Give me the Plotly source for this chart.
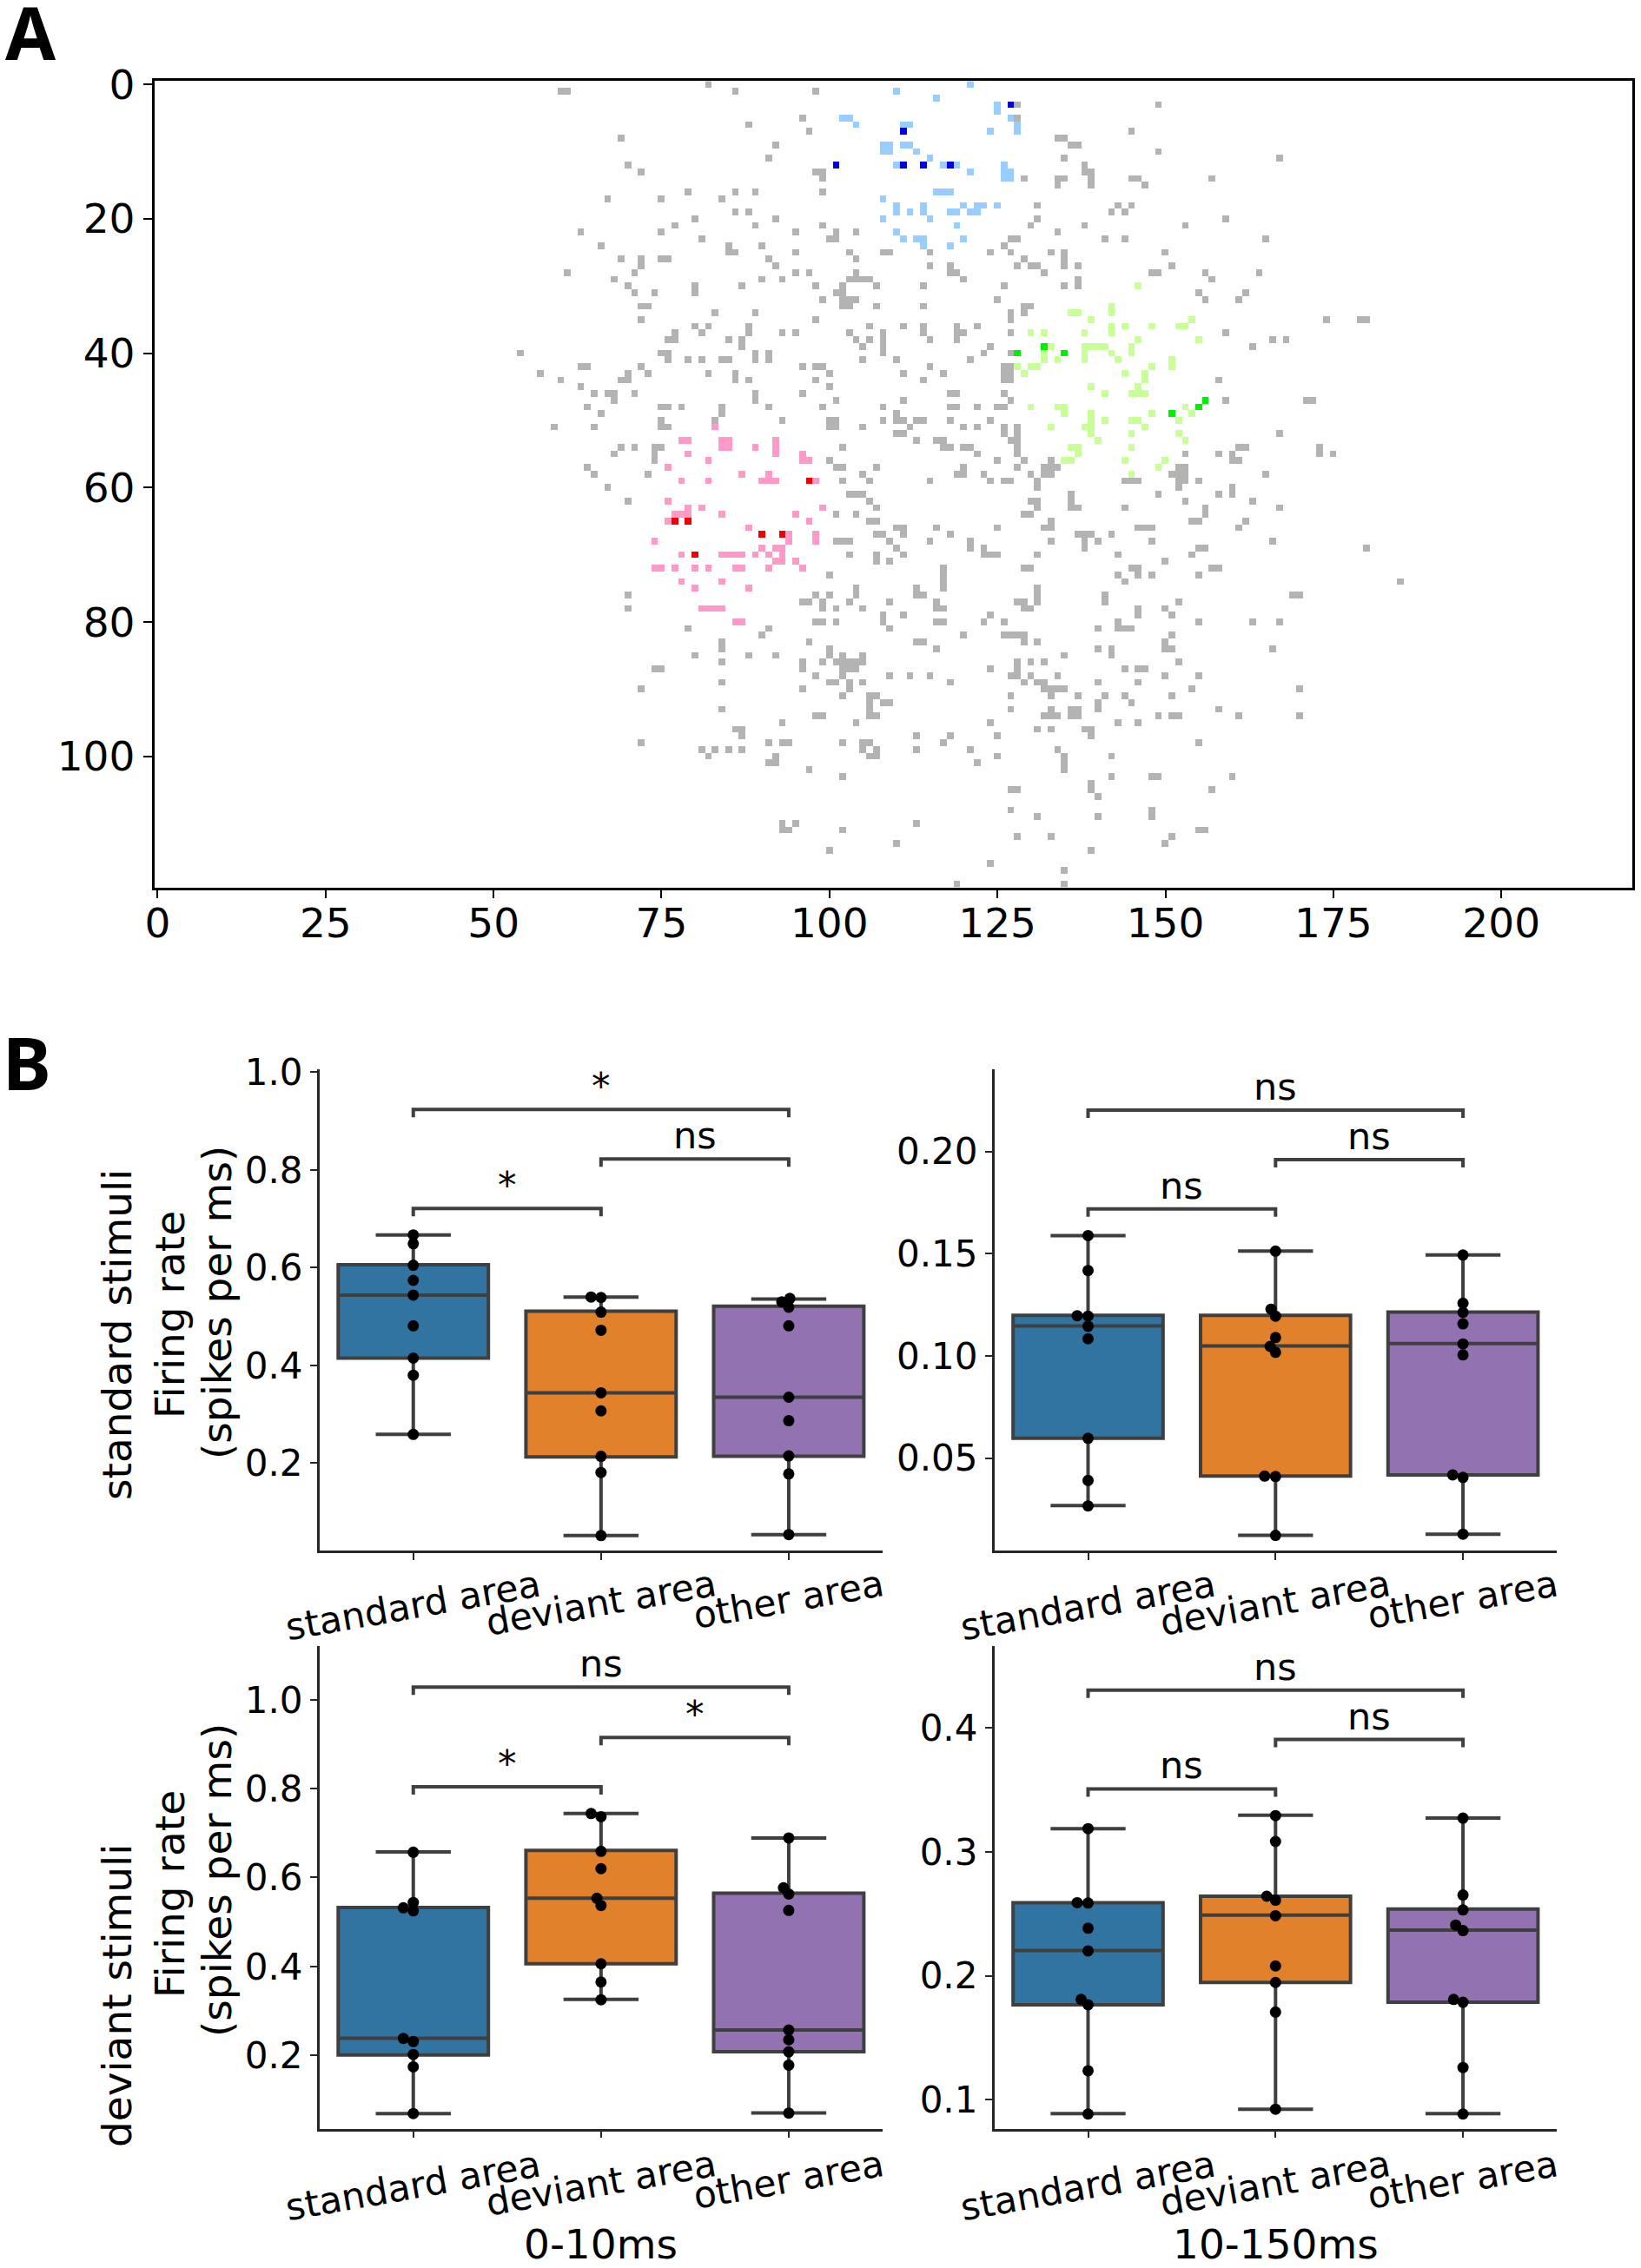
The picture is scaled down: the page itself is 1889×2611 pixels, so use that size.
import numpy as np
import plotly.graph_objects as go

W, H = 1889, 2611

# ---- panel A, cells by row: {row: [columns]} ----
gray_cells = {
    0: [82], 1: [60, 61, 86, 98], 3: [128, 149], 5: [96, 128], 6: [88], 7: [97, 145], 8: [69, 134, 135],
    9: [92, 136, 137], 10: [149], 11: [91, 135, 167], 12: [70, 138], 13: [72, 98, 99, 138, 139],
    14: [99, 129, 134, 135, 139, 145, 146, 157], 15: [134, 139, 147], 16: [79, 86, 89, 99], 17: [67, 75, 84],
    18: [131, 143, 145], 19: [86, 88, 142, 144], 20: [80, 92, 131, 159], 21: [77, 89, 99, 130, 138, 153],
    22: [63, 75, 95, 101, 104, 134], 23: [81, 100, 101, 127, 128, 141, 144, 165], 24: [66, 85, 90, 126],
    25: [85, 86, 95, 103, 108, 109, 115, 124, 127, 133, 135, 150], 26: [69, 72, 75, 76, 91, 104, 129, 135],
    27: [72, 92, 115, 118, 128, 130, 131, 135, 137, 151], 28: [61, 71, 95, 97, 104, 118, 119, 132, 148, 149, 156, 164],
    29: [68, 90, 93, 103, 104, 105, 106, 120, 137, 157], 30: [70, 80, 87, 98, 102, 107, 114, 126, 135, 137],
    31: [71, 74, 80, 101, 102, 155, 162], 32: [99, 102, 103, 104, 125, 156, 161],
    33: [72, 73, 102, 103, 107, 114, 129, 130], 34: [83, 89, 127, 129], 35: [72, 98, 127, 174, 179, 180],
    36: [80, 82, 88, 106, 111, 114, 119, 122], 37: [77, 81, 88, 93, 95, 103, 108, 114, 119, 120, 127, 159],
    38: [76, 77, 85, 87, 104, 106, 108, 115, 119, 166, 168], 39: [87, 105, 108, 124, 163],
    40: [54, 75, 76, 89, 91, 108, 123, 127], 41: [76, 79, 81, 84, 85, 89, 91, 105, 110, 121],
    42: [63, 64, 72, 96, 98, 99, 115, 126, 127], 43: [57, 70, 73, 82, 86, 100, 111, 117, 126, 127],
    44: [60, 69, 70, 86, 88, 98, 114, 126, 127, 158], 45: [63, 100], 46: [65, 67, 68, 71, 89, 96, 118, 119, 126],
    47: [68, 89, 101, 111, 127, 159, 171, 172], 48: [64, 75, 76, 78, 84, 91, 99, 108, 118, 119, 122, 125, 126],
    49: [66, 84, 110], 50: [75, 83, 93, 100, 101, 108, 110, 111, 113, 114, 118, 124],
    51: [59, 65, 75, 76, 100, 101, 105, 112, 120, 122, 126, 128], 52: [110, 111, 126, 128, 167],
    53: [113, 116, 117, 127, 128], 54: [69, 71, 74, 75, 102, 117, 118, 120, 121, 128, 161, 162, 173],
    55: [68, 74, 122, 128, 153, 158, 160, 173, 175], 56: [74, 100, 125, 129, 133, 160, 161],
    57: [64, 101, 102, 107, 120, 128, 132, 133, 134, 152, 153],
    58: [65, 73, 105, 119, 120, 123, 130, 132, 133, 151, 152, 153, 165],
    59: [102, 106, 115, 124, 126, 127, 131, 144, 145, 146, 152, 153, 155], 60: [67, 131, 152, 160],
    61: [103, 104, 105, 136, 149, 158, 160], 62: [70, 106, 130, 131, 136, 153, 163],
    63: [107, 131, 136, 137, 144, 156, 167], 64: [101, 104, 129, 130, 156], 65: [106, 107, 133, 154, 155, 162],
    66: [110, 111, 116, 125, 132, 133, 146, 147, 148, 161], 67: [107, 108, 111, 118, 137, 138, 139, 142],
    68: [101, 102, 103, 109, 115, 121, 133, 138, 140, 148, 166], 69: [110, 121, 123, 138, 155, 156, 180],
    70: [103, 107, 111, 123, 124, 125, 131, 143, 154], 71: [107, 109, 150], 72: [117, 129, 130, 145, 146, 157, 158],
    73: [100, 117, 143, 146, 148, 155], 74: [117, 144, 185], 75: [104, 113, 117, 131],
    76: [70, 98, 100, 104, 113, 114, 131, 141, 169, 170], 77: [96, 97, 99, 103, 109, 116, 128, 129, 131, 141, 152],
    78: [70, 99, 101, 105, 116, 117, 129, 130, 146, 150], 79: [108, 111, 124, 146, 151],
    80: [98, 99, 101, 108, 116, 117, 123, 126, 143, 155, 163, 167], 81: [79, 91, 109, 140, 143, 144, 145],
    82: [90, 120, 126, 127, 128, 129, 151], 83: [84, 97, 113, 114, 129, 131, 150],
    84: [84, 100, 116, 140, 142, 150, 151, 166], 85: [80, 88, 92, 100, 102, 105, 135, 142],
    86: [84, 96, 99, 101, 102, 103, 104, 105, 128, 130, 132, 152],
    87: [74, 75, 96, 102, 103, 104, 124, 128, 144, 146, 147], 88: [98, 102, 109, 112, 115, 127, 128, 130, 134, 150, 155],
    89: [84, 100, 101, 103, 105, 118, 129, 131, 132, 140, 146], 90: [72, 96, 103, 132, 133, 134, 135, 154, 170],
    91: [102, 106, 107, 127, 133, 137, 141, 144, 151], 92: [106, 108, 109, 140, 145],
    93: [84, 106, 127, 133, 136, 137, 140, 158], 94: [98, 99, 106, 107, 132, 133, 134, 136, 137, 149, 151, 152, 161, 170],
    95: [93, 104, 124, 143, 146], 96: [86, 87, 131, 133, 138, 139], 97: [87, 113, 118, 125, 139],
    98: [72, 91, 93, 94, 102, 105, 106, 117, 155], 99: [81, 83, 85, 87, 105, 107, 113, 121, 134],
    100: [82, 92, 106, 107, 125, 135, 142], 101: [91, 92, 122, 135], 102: [97, 135], 103: [102, 142, 148, 149, 160],
    104: [139], 105: [127, 128, 139, 157], 106: [140], 108: [127, 148], 109: [131, 140, 148], 110: [93, 95, 113],
    111: [93, 94, 102, 155, 156], 112: [128, 133, 151], 113: [110, 150], 114: [100, 139], 116: [124], 117: [135],
    119: [119, 135],
}
lightblue_cells = {
    0: [121], 1: [110], 2: [116], 3: [125], 4: [125], 5: [102, 103, 127], 6: [104, 111, 112, 128], 7: [124, 128],
    9: [108, 109, 111, 112], 10: [108, 109, 113], 11: [115], 12: [110, 117, 119, 126], 13: [121, 126, 127],
    14: [126, 127], 16: [116, 117, 118], 17: [108], 18: [110, 114, 120, 122, 123, 125],
    19: [110, 112, 114, 118, 119, 121, 122], 20: [108, 115], 21: [119], 22: [110], 23: [111, 113, 114, 120],
    24: [114, 118],
}
blue_cells = {3: [127], 7: [111], 12: [101, 111, 114, 118]}
lightgreen_cells = {
    30: [146], 33: [142], 34: [136, 137, 142], 35: [139, 154], 36: [142, 144, 148, 152, 153],
    37: [130, 132, 138, 142], 38: [146, 155], 39: [133, 138, 139, 140, 141, 145], 40: [132, 138, 142, 145],
    41: [132, 134, 138, 143, 151], 42: [128, 130, 131, 148, 151], 43: [129, 144, 147], 44: [147], 45: [139, 146],
    46: [141, 145, 146, 147], 48: [130, 134, 135, 153], 49: [135, 139, 148, 154], 50: [139, 141, 145, 146, 152],
    51: [133, 138, 139, 147], 52: [139, 145, 152], 53: [140, 153], 54: [136, 137, 145], 55: [137],
    56: [135, 136, 144, 150], 57: [149], 58: [145],
}
green_cells = {39: [132], 40: [128, 135], 47: [156], 48: [155], 49: [151]}
pink_cells = {
    51: [83], 53: [78, 79, 84, 85, 92], 54: [84, 85, 89, 92], 55: [79, 92, 96], 56: [82, 96, 97], 57: [76],
    58: [87, 91], 59: [78, 82, 90, 91, 92, 98], 62: [76], 63: [79, 81, 99], 64: [77, 78, 79, 84, 95], 65: [76, 97],
    66: [88], 67: [94, 98], 68: [74, 94, 98], 69: [90, 92, 93], 70: [78, 84, 85, 86, 87, 89, 91, 93],
    71: [92, 93, 95], 72: [74, 75, 77, 80, 82, 86, 87, 91, 96], 74: [78, 84], 75: [80, 88], 78: [81, 82, 83, 84],
    80: [86, 87],
}
red_cells = {59: [97], 65: [77, 79], 67: [90, 93], 70: [80]}

x_ticks_a = [0, 25, 50, 75, 100, 125, 150, 175, 200]
y_ticks_a = [0, 20, 40, 60, 80, 100]

# ---- panel B ----
categories = ["standard area", "deviant area", "other area"]
box_colors = ["#3274a1", "#e1812c", "#9372b2"]

# standard stimuli, 0-10ms
s_early_points = [[.667, .649, .605, .574, .544, .481, .415, .380, .259],
                  [.540, .539, .509, .472, .344, .307, .214, .181, .052],
                  [.537, .530, .519, .481, .335, .287, .215, .178, .054]]
s_early_swarm = [[0] * 9,
                 [-.053, 0, 0, 0, 0, 0, 0, 0, 0],
                 [.006, -.037, 0, 0, 0, 0, 0, 0, 0]]
s_early_q1 = [.415, .213, .214]
s_early_med = [.544, .344, .335]
s_early_q3 = [.606, .511, .521]
s_early_lo = [.259, .052, .054]
s_early_hi = [.667, .540, .536]
s_early_brackets = [.7212, .8223, .9235]
s_early_stars = ["*", "ns", "*"]

# standard stimuli, 10-150ms
s_late_points = [[.1589, .1418, .1197, .1195, .1145, .1084, .0597, .0391, .0266],
                 [.1513, .1229, .1195, .1090, .1047, .1018, .0412, .0410, .0122],
                 [.1494, .1258, .1213, .1157, .1059, .1005, .0418, .0406, .0128]]
s_late_swarm = [[0, 0, -.058, 0, 0, 0, 0, 0, 0],
                [0, -.024, 0, 0, -.029, 0, -.058, 0, 0],
                [0, 0, 0, 0, 0, 0, -.055, 0, 0]]
s_late_q1 = [.0597, .0412, .0418]
s_late_med = [.1147, .1049, .1061]
s_late_q3 = [.1199, .1199, .1215]
s_late_lo = [.0268, .0122, .0128]
s_late_hi = [.1589, .1513, .1494]
s_late_brackets = [.1720, .1961, .2203]
s_late_stars = ["ns", "ns", "ns"]

# deviant stimuli, 0-10ms
d_early_points = [[.657, .544, .532, .525, .238, .231, .202, .174, .069],
                  [.744, .737, .659, .620, .5535, .537, .406, .365, .325],
                  [.689, .577, .563, .526, .257, .235, .208, .178, .070]]
d_early_swarm = [[0, 0, -.053, 0, -.053, 0, 0, 0, 0],
                 [-.053, 0, 0, 0, -.022, 0, 0, 0, 0],
                 [0, -.028, 0, 0, 0, 0, 0, 0, 0]]
d_early_q1 = [.2009, .406, .208]
d_early_med = [.2383, .5535, .257]
d_early_q3 = [.5326, .661, .565]
d_early_lo = [.0688, .326, .0706]
d_early_hi = [.6574, .744, .689]
d_early_brackets = [.8041, .9153, 1.0283]
d_early_stars = ["*", "*", "ns"]

# deviant stimuli, 10-150ms
d_late_points = [[.3187, .259, .2587, .2384, .2201, .181, .1767, .1235, .0886],
                 [.3292, .3083, .2642, .261, .2485, .208, .1947, .1708, .0925],
                 [.3272, .2652, .2531, .241, .2365, .181, .1787, .1261, .0886]]
d_late_swarm = [[0, -.058, 0, 0, 0, -.037, 0, 0, 0],
                [0, 0, -.047, 0, 0, 0, 0, 0, 0],
                [0, 0, 0, -.039, 0, -.05, 0, 0, 0]]
d_late_q1 = [.1767, .1947, .1787]
d_late_med = [.2205, .2489, .2368]
d_late_q3 = [.259, .2642, .2538]
d_late_lo = [.0889, .0925, .0889]
d_late_hi = [.3187, .3295, .3272]
d_late_brackets = [.3507, .3906, .4304]
d_late_stars = ["ns", "ns", "ns"]

bracket_spans = [(0, 1), (1, 2), (0, 2)]

FONT = "DejaVu Sans"
DARK = "#3f3f3f"


def dx(a, b):
    return [a / W, b / W]


def dy(top, bottom):
    return [1 - bottom / H, 1 - top / H]


fig = go.Figure()

# panel A
z = np.full((120, 220), np.nan)
cell_groups = [gray_cells, lightblue_cells, blue_cells, lightgreen_cells, green_cells, pink_cells, red_cells]
cell_colors = ["#b3b3b3", "#99ccff", "#0000e6", "#c8ff96", "#00f000", "#ff99c8", "#f00000"]
for code, group in enumerate(cell_groups):
    for row, cols in group.items():
        for col in cols:
            z[row, col] = code
stops = []
for code, color in enumerate(cell_colors):
    stops.append([code / 7, color])
    stops.append([(code + 1) / 7, color])
fig.add_trace(go.Heatmap(z=z, x=np.arange(220), y=np.arange(120), zmin=-0.5, zmax=6.5, colorscale=stops,
                         showscale=False, hoverongaps=False, xaxis="x", yaxis="y"))

fig.update_layout(
    xaxis=dict(domain=dx(177.6, 1879), range=[-0.5, 219.5], tickvals=x_ticks_a, ticks="outside", ticklen=10,
               tickwidth=2, tickcolor="black", showline=True, linecolor="black", linewidth=2.5, mirror=True,
               showgrid=False, zeroline=False, anchor="y", automargin=False, ticklabelstandoff=-12,
               tickfont=dict(family=FONT, size=47, color="black")),
    yaxis=dict(domain=dy(93.3, 1021.7), range=[119.5, -0.5], tickvals=y_ticks_a, ticks="outside", ticklen=10,
               tickwidth=2, tickcolor="black", showline=True, linecolor="black", linewidth=2.5, mirror=True,
               showgrid=False, zeroline=False, anchor="x", automargin=False,
               tickfont=dict(family=FONT, size=47, color="black")),
)

panels = [
    dict(points=s_early_points, swarm=s_early_swarm, q1=s_early_q1, med=s_early_med, q3=s_early_q3, lo=s_early_lo,
         hi=s_early_hi, brackets=s_early_brackets, stars=s_early_stars, yr=[.0214, 1.0067],
         ticks=[.2, .4, .6, .8, 1.0], fmt=".1f", px=(367.7, 1016), py=(1230.5, 1785), cat_y=1796),
    dict(points=s_late_points, swarm=s_late_swarm, q1=s_late_q1, med=s_late_med, q3=s_late_q3, lo=s_late_lo,
         hi=s_late_hi, brackets=s_late_brackets, stars=s_late_stars, yr=[.0048, .2405],
         ticks=[.05, .10, .15, .20], fmt=".2f", px=(1144.6, 1792), py=(1230.5, 1785), cat_y=1796),
    dict(points=d_early_points, swarm=d_early_swarm, q1=d_early_q1, med=d_early_med, q3=d_early_q3, lo=d_early_lo,
         hi=d_early_hi, brackets=d_early_brackets, stars=d_early_stars, yr=[.035, 1.120],
         ticks=[.2, .4, .6, .8, 1.0], fmt=".1f", px=(367.7, 1016), py=(1895.4, 2450.6), cat_y=2464),
    dict(points=d_late_points, swarm=d_late_swarm, q1=d_late_q1, med=d_late_med, q3=d_late_q3, lo=d_late_lo,
         hi=d_late_hi, brackets=d_late_brackets, stars=d_late_stars, yr=[.0768, .4656],
         ticks=[.1, .2, .3, .4], fmt=".1f", px=(1144.6, 1792), py=(1895.4, 2450.6), cat_y=2464),
]

annotations = []
for n, p in enumerate(panels):
    xa = "x%d" % (n + 2)
    ya = "y%d" % (n + 2)
    axis = dict(showline=True, linecolor="#262626", linewidth=2.5, ticks="outside", ticklen=8, tickwidth=2,
                tickcolor="#262626", showgrid=False, zeroline=False, automargin=False)
    fig.update_layout({
        "xaxis%d" % (n + 2): dict(axis, domain=dx(*p["px"]), range=[-0.5, 2.5], tickvals=[0, 1, 2],
                                  showticklabels=False, anchor=ya),
        "yaxis%d" % (n + 2): dict(axis, domain=dy(*p["py"]), range=p["yr"], tickvals=p["ticks"],
                                  ticktext=[format(t, p["fmt"]) for t in p["ticks"]], anchor=xa,
                                  tickfont=dict(family=FONT, size=42, color="black")),
    })
    for i in range(3):
        fig.add_trace(go.Box(x=[i], q1=[p["q1"][i]], median=[p["med"][i]], q3=[p["q3"][i]],
                             lowerfence=[p["lo"][i]], upperfence=[p["hi"][i]], width=0.8, whiskerwidth=0.5,
                             fillcolor=box_colors[i], line=dict(color=DARK, width=4), boxpoints=False,
                             xaxis=xa, yaxis=ya))
        fig.add_trace(go.Scatter(x=[i + s for s in p["swarm"][i]], y=p["points"][i], mode="markers",
                                 marker=dict(color="black", size=13), cliponaxis=False, xaxis=xa, yaxis=ya))
        annotations.append(dict(x=i, xref=xa, y=1 - p["cat_y"] / H, yref="paper", text=categories[i], textangle=-10,
                                showarrow=False, xanchor="center", yanchor="top",
                                font=dict(family=FONT, size=42.5, color="black")))
    # significance brackets
    drop = (p["yr"][1] - p["yr"][0]) * 9 / (p["py"][1] - p["py"][0])
    for (a, b), level, star in zip(bracket_spans, p["brackets"], p["stars"]):
        fig.add_trace(go.Scatter(x=[a, a, b, b], y=[level - drop, level, level, level - drop], mode="lines",
                                 line=dict(color=DARK, width=4), xaxis=xa, yaxis=ya))
        annotations.append(dict(x=(a + b) / 2, xref=xa, y=level, yref=ya, text=star, showarrow=False,
                                xanchor="center", yanchor="bottom", yshift=0,
                                font=dict(family=FONT, size=43, color="black")))


def side_text(text, x_px, y_px, size=47, angle=-90):
    annotations.append(dict(x=x_px / W, xref="paper", y=1 - y_px / H, yref="paper", text=text, textangle=angle,
                            showarrow=False, xanchor="center", yanchor="middle",
                            font=dict(family=FONT, size=size, color="black")))


side_text("standard stimuli", 134, 1537)
side_text("Firing rate", 195, 1514)
side_text("(spikes per ms)", 249, 1500)
side_text("deviant stimuli", 134, 2298)
side_text("Firing rate", 195, 2181)
side_text("(spikes per ms)", 249, 2165)
side_text("0-10ms", 691, 2583, angle=0)
side_text("10-150ms", 1468, 2583, angle=0)

for letter, lx, ly in [("A", 35, 36), ("B", 31, 1222)]:
    annotations.append(dict(x=lx / W, xref="paper", y=1 - ly / H, yref="paper", text="<b>%s</b>" % letter,
                            showarrow=False, xanchor="center", yanchor="middle", height=66,
                            font=dict(family="Noto Sans", size=84, color="black")))

fig.update_layout(width=W, height=H, autosize=False, margin=dict(l=0, r=0, t=0, b=0, autoexpand=False),
                  showlegend=False, paper_bgcolor="white", plot_bgcolor="white", annotations=annotations)

fig.write_html("out.html", config={"displayModeBar": False}, post_script="document.body.style.margin='0';")
